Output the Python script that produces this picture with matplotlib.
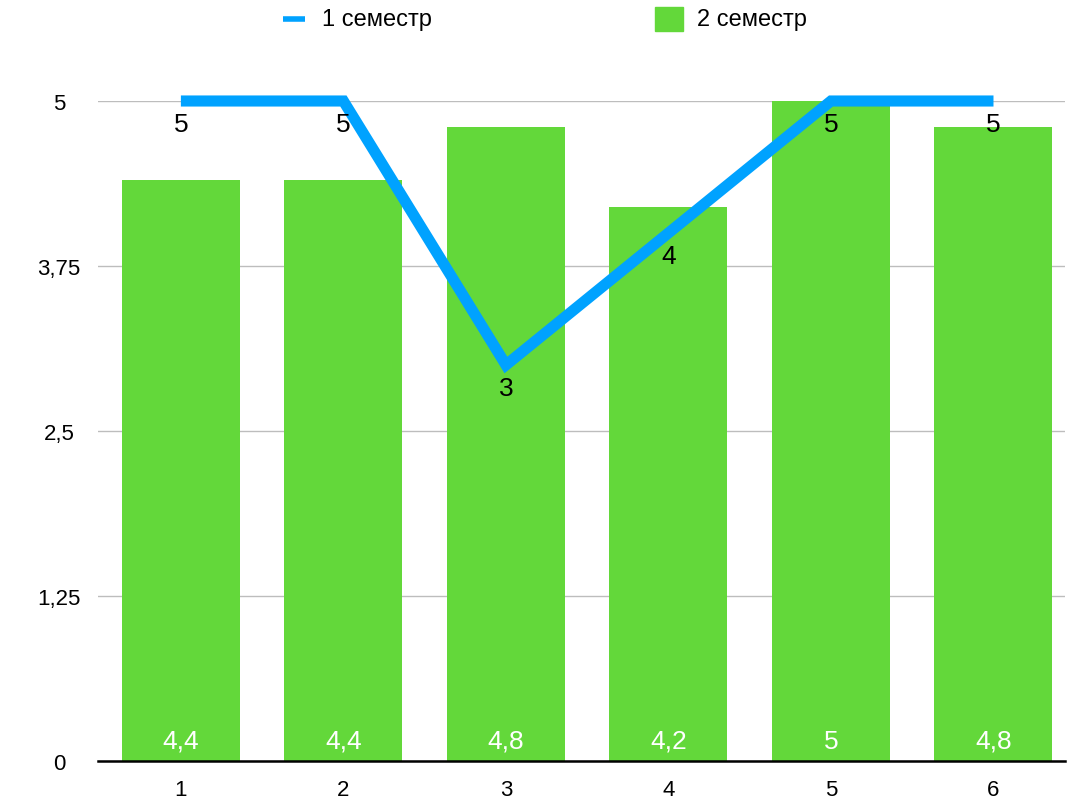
import numpy as np
import matplotlib
matplotlib.use('Agg')
import matplotlib.pyplot as plt
from matplotlib.lines import Line2D
from matplotlib.patches import Rectangle

categories = [1, 2, 3, 4, 5, 6]
sem1 = [5, 5, 3, 4, 5, 5]
sem2 = [4.4, 4.4, 4.8, 4.2, 5, 4.8]
yticks = [0, 1.25, 2.5, 3.75, 5]
ytick_labels = ['0', '1,25', '2,5', '3,75', '5']
series_names = ['1 семестр', '2 семестр']

blue = '#00A2FF'
green = '#63D83A'

plt.rcParams['font.family'] = ['Liberation Sans', 'DejaVu Sans']

W, H = 1069, 803
fig = plt.figure(figsize=(W / 100, H / 100), dpi=100)
ax = fig.add_axes([98 / W, 1 - 762 / H, (1065 - 98) / W, (762 - 102) / H])

x = np.array(categories)
ax.bar(x, sem2, width=0.726, color=green, zorder=2)
ax.plot(x, sem1, color=blue, lw=8, solid_capstyle='butt', solid_joinstyle='miter',
        zorder=3, clip_on=False)

for xi, v in zip(x, sem1):
    ax.annotate(str(v).replace('.', ','), (xi, v), xytext=(0, -8), textcoords='offset points',
                ha='center', va='top', fontsize=19, color='black', zorder=4)
for xi, v in zip(x, sem2):
    ax.annotate(str(v).replace('.', ','), (xi, 0), xytext=(0, 6), textcoords='offset points',
                ha='center', va='bottom', fontsize=19, color='white', zorder=4)

ax.set_xlim(0.49, 6.44)
ax.set_ylim(0, 5)
ax.set_yticks(yticks)
ax.set_yticklabels(ytick_labels)
ax.set_xticks(x)
ax.tick_params(axis='both', length=0, labelsize=16)
ax.tick_params(axis='y', pad=28)
ax.tick_params(axis='x', pad=13)
ax.grid(axis='y', color='#BDBDBD', lw=1, zorder=0)
for s in ['top', 'right', 'left']:
    ax.spines[s].set_visible(False)
ax.spines['bottom'].set_linewidth(1.8)
ax.spines['bottom'].set_color('black')
ax.spines['bottom'].set_zorder(5)
for lbl in ax.get_yticklabels():
    lbl.set_horizontalalignment('center')

# legend drawn by hand so the line and the square sit on the text centre
ly = 1 - 20 / H
fig.add_artist(Line2D([283 / W, 305 / W], [ly, ly], color=blue, lw=4, solid_capstyle='butt'))
fig.text(322 / W, ly, series_names[0], fontsize=17, va='center', ha='left')
fig.add_artist(Rectangle((655 / W, 1 - 32 / H), 28 / W, 24 / H, color=green))
fig.text(697 / W, ly, series_names[1], fontsize=17, va='center', ha='left')

fig.savefig('out.png', dpi=100)
